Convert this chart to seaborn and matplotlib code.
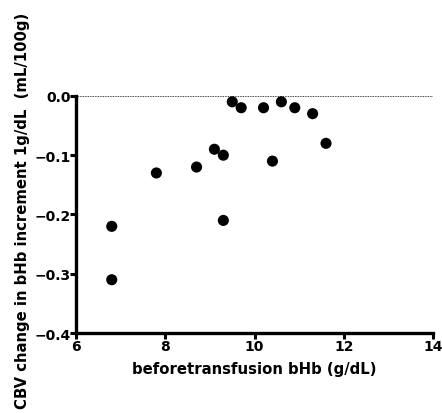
import matplotlib
matplotlib.use("Agg")
import matplotlib.pyplot as plt
import seaborn as sns
import pandas as pd

# before-transfusion bHb (g/dL) vs CBV change per 1 g/dL bHb increment
bhb = [6.8, 6.8, 7.8, 8.7, 9.1, 9.3, 9.3, 9.5, 9.7, 10.2, 10.4, 10.6, 10.9, 11.3, 11.6]
cbv = [-0.22, -0.31, -0.13, -0.12, -0.09, -0.10, -0.21, -0.01, -0.02, -0.02, -0.11, -0.01, -0.02, -0.03, -0.08]
xticks = [6, 8, 10, 12, 14]
yticks = [0.0, -0.1, -0.2, -0.3, -0.4]
ytick_labels = ["0.0", "\u22120.1", "\u22120.2", "\u22120.3", "\u22120.4"]

df = pd.DataFrame({"bhb": bhb, "cbv": cbv})

sns.set_style("ticks")
plt.rcParams["font.family"] = ["DejaVu Sans"]
plt.rcParams["font.weight"] = "bold"
plt.rcParams["axes.linewidth"] = 2.4
plt.rcParams["text.color"] = "black"
plt.rcParams["axes.labelcolor"] = "black"

fig = plt.figure(figsize=(4.42, 4.14), dpi=100)
ax = fig.add_axes([0.172, 0.193, 0.808, 0.573])

ax.axhline(0, color="black", lw=0.6, ls=(0, (1, 1)), zorder=1)
sns.scatterplot(data=df, x="bhb", y="cbv", ax=ax, color="black", s=64,
                edgecolor="none", zorder=3, clip_on=False)

ax.set_xlim(6, 14)
ax.set_ylim(-0.4, 0.0)
ax.set_xticks(xticks)
ax.set_yticks(yticks)
ax.set_yticklabels(ytick_labels)
ax.tick_params(width=2.2, length=4, labelsize=10, pad=0, colors="black")
for lab in ax.get_xticklabels() + ax.get_yticklabels():
    lab.set_fontweight("bold")

sns.despine(ax=ax)
ax.spines["left"].set_color("black")
ax.spines["bottom"].set_color("black")

ax.set_xlabel("beforetransfusion bHb (g/dL)", fontsize=10.7, fontweight="bold", labelpad=6)
ax.set_ylabel("CBV change in bHb increment 1g/dL  (mL/100g)", fontsize=10.7,
              fontweight="bold")
ax.yaxis.set_label_coords(-0.13, 0.52)

fig.savefig("out.png", dpi=100)
